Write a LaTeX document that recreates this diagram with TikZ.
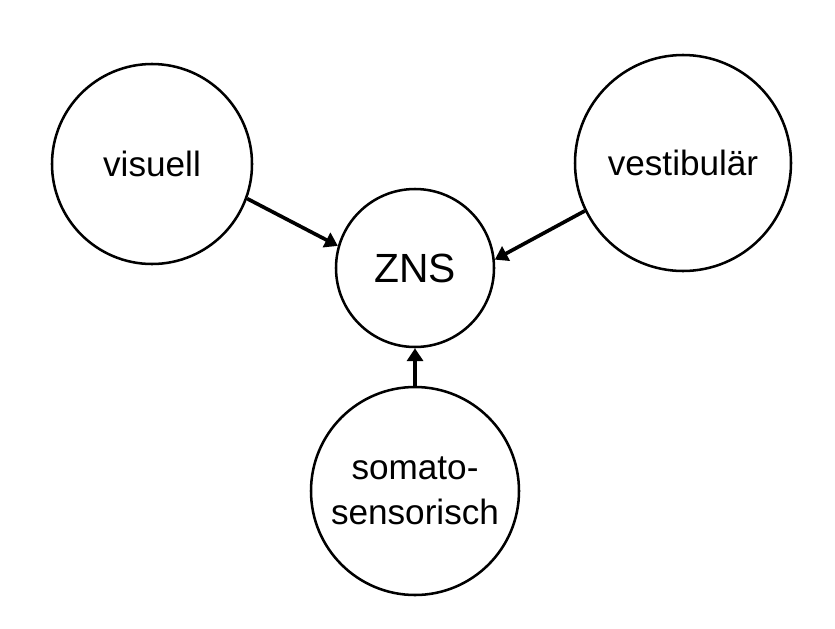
\documentclass[tikz,border=0pt]{standalone}
\usepackage{fontspec}
\setmainfont{Liberation Sans}
\usetikzlibrary{arrows.meta}

\begin{document}
\begin{tikzpicture}[
		sense/.style={circle, draw, line width=1.8pt, inner sep=0pt, font=\fontsize{25}{32}\selectfont, align=center},
		feed/.style={-{Triangle[length=0.32cm,width=0.4cm]}, line width=2.6pt}
	]

		% Canvas size.
		\useasboundingbox (0,0) rectangle (20.875,-15.7);

		% Centre node.
		\node[sense, minimum size=3.95cm, font=\fontsize{29}{35}\selectfont] (zns) at (10.375,-6.7) {ZNS};

		% Sensory inputs.
		\node[sense, minimum size=5cm] (visuell) at (3.8,-4.1) {visuell};
		\node[sense, minimum size=5.4cm] (vestib) at (17.075,-4.075) {vestibulär};
		\node[sense, minimum size=5.2cm] (somato) at (10.375,-12.275) {somato-\\sensorisch};

		% Connections to ZNS.
		\draw[feed] (visuell.-20) -- (zns.164);
		\draw[feed] (vestib.206) -- (zns.6);
		\draw[feed] (somato.north) -- (zns.south);

	\end{tikzpicture}
\end{document}
